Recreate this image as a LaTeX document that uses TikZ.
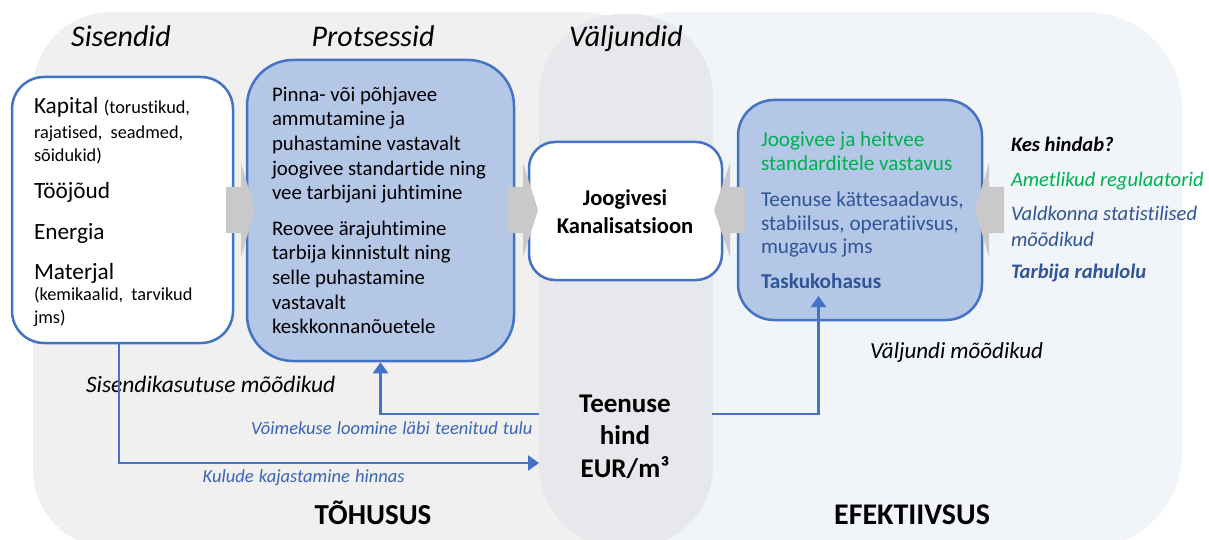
\documentclass[tikz,border=0pt]{standalone}
\usepackage{fontspec}
\setmainfont{Carlito}[Ligatures=NoCommon]
\usetikzlibrary{arrows.meta}
\definecolor{bgL}{HTML}{F0F0F0}
\definecolor{bgM}{HTML}{E7E8EB}
\definecolor{bgR}{HTML}{F1F4F9}
\definecolor{boxblue}{HTML}{B4C7E7}
\definecolor{edgeblue}{HTML}{4472C4}
\definecolor{txtblue}{HTML}{2F5597}
\definecolor{lblblue}{HTML}{3A64B4}
\definecolor{grn}{HTML}{00B050}
\definecolor{arrgray}{HTML}{C9C9C9}
\tikzset{
  wbox/.style={draw=edgeblue, line width=2.5pt, fill=white, inner sep=0pt},
  bbox/.style={draw=edgeblue, line width=2.5pt, fill=boxblue, inner sep=0pt},
  txt/.style={anchor=base west, inner sep=0pt, outer sep=0pt},
  ctxt/.style={anchor=base, inner sep=0pt, outer sep=0pt},
  conn/.style={draw=edgeblue, line width=2.5pt, -{Triangle[length=11pt,width=15pt]}},
  blockarrow/.style={fill=arrgray},
  fp/.style={font=\fontsize{20.8}{25}\selectfont},
  fr/.style={font=\fontsize{21.2}{25}\selectfont},
  f18/.style={font=\fontsize{18.3}{23}\selectfont},
  f23/.style={font=\fontsize{23.3}{27}\selectfont},
  fk/.style={font=\itshape\fontsize{20.6}{24}\selectfont},
  flow/.style={anchor=base west, inner sep=0pt, text=lblblue, font=\itshape\fontsize{18.5}{22}\selectfont}
}
\begin{document}
\begin{tikzpicture}[x=1pt,y=-1pt]
\useasboundingbox (0,0) rectangle (1209,540);
% backgrounds
\fill[bgL, rounded corners=78pt] (33,12) rectangle (660,548);
\fill[bgR, rounded corners=95pt] (580,12) rectangle (1182,548);
\fill[bgM, rounded corners=82pt] (539,14) rectangle (713,548);

% headings
\node[ctxt, font=\itshape\fontsize{30}{34}\selectfont] (hSis) at (121,47) {Sisendid};
\node[ctxt, font=\itshape\fontsize{30}{34}\selectfont] (hPro) at (373,47) {Protsessid};
\node[ctxt, font=\itshape\fontsize{30}{34}\selectfont] (hVal) at (626,47) {Väljundid};

% boxes
\node[wbox, rounded corners=32pt, minimum width=221pt, minimum height=266pt] (inp) at (122.5,210) {};
\node[bbox, rounded corners=46pt, minimum width=267pt, minimum height=301pt] (proc) at (380.5,210.5) {};
\node[wbox, rounded corners=26pt, minimum width=193pt, minimum height=138pt] (outb) at (625.5,211) {};
\node[bbox, rounded corners=36pt, minimum width=244pt, minimum height=220pt] (res) at (860,210) {};

% block arrows
\fill[blockarrow] (226,187) -- (241,187) -- (241,163) -- (255,210) -- (241,257) -- (241,233) -- (226,233) -- cycle;
\fill[blockarrow] (508,187) -- (523,187) -- (523,163) -- (538,210) -- (523,257) -- (523,233) -- (508,233) -- cycle;
\fill[blockarrow] (745,187) -- (730,187) -- (730,163) -- (714,210) -- (730,257) -- (730,233) -- (745,233) -- cycle;
\fill[blockarrow] (1004,187) -- (989,187) -- (989,163) -- (975,210) -- (989,257) -- (989,233) -- (1004,233) -- cycle;

% input text
\node[txt, f23] (i1) at (34,114) {Kapital {\fontsize{18.3}{22}\selectfont (torustikud,}};
\node[txt, f18] (i2) at (34,139) {rajatised,\hspace{4pt} seadmed,};
\node[txt, f18] (i3) at (34,162) {sõidukid)};
\node[txt, f23] (i4) at (34,199) {Tööjõud};
\node[txt, f23] (i5) at (34,239) {Energia};
\node[txt, f23] (i6) at (34,279) {Materjal};
\node[txt, f18] (i7) at (34,300) {(kemikaalid,\hspace{4pt} tarvikud};
\node[txt, f18] (i8) at (34,323) {jms)};

% process text
\node[txt, fp] (p1) at (272,102) {Pinna- või põhjavee};
\node[txt, fp] (p2) at (272,126) {ammutamine ja};
\node[txt, fp] (p3) at (272,151) {puhastamine vastavalt};
\node[txt, fp] (p4) at (272,175.5) {joogivee standartide ning};
\node[txt, fp] (p5) at (272,199.5) {vee tarbijani juhtimine};
\node[txt, fp] (p6) at (272,235) {Reovee ärajuhtimine};
\node[txt, fp] (p7) at (272,259.5) {tarbija kinnistult ning};
\node[txt, fp] (p8) at (272,284.5) {selle puhastamine};
\node[txt, fp] (p9) at (272,309) {vastavalt};
\node[txt, fp] (p10) at (272,333) {keskkonnanõuetele};

% output text
\node[ctxt, font=\bfseries\fontsize{22.6}{27}\selectfont] (o1) at (625,205) {Joogivesi};
\node[ctxt, font=\bfseries\fontsize{22.6}{27}\selectfont] (o2) at (625,233) {Kanalisatsioon};

% result text
\node[txt, fr, text=grn] (r1) at (761,147) {Joogivee ja heitvee};
\node[txt, fr, text=grn] (r2) at (761,170.5) {standarditele vastavus};
\node[txt, fr, text=txtblue] (r3) at (761,207) {Teenuse kättesaadavus,};
\node[txt, fr, text=txtblue] (r4) at (761,230) {stabiilsus, operatiivsus,};
\node[txt, fr, text=txtblue] (r5) at (761,253) {mugavus jms};
\node[txt, text=txtblue, font=\bfseries\fontsize{21.2}{25}\selectfont] (r6) at (761,288) {Taskukohasus};

% who evaluates
\node[txt, font=\bfseries\itshape\fontsize{20.6}{24}\selectfont] (k1) at (1011,152) {Kes hindab?};
\node[txt, fk, text=grn] (k2) at (1011,186) {Ametlikud regulaatorid};
\node[txt, fk, text=txtblue] (k3) at (1011,220.5) {Valdkonna statistilised};
\node[txt, fk, text=txtblue] (k4) at (1011,246.5) {mõõdikud};
\node[txt, text=txtblue, font=\bfseries\itshape\fontsize{20.6}{24}\selectfont] (k5) at (1011,278) {Tarbija rahulolu};

% measure labels
\node[txt, font=\itshape\fontsize{23}{26}\selectfont] (m1) at (870,358) {Väljundi mõõdikud};
\node[txt, font=\itshape\fontsize{23.5}{26}\selectfont] (m2) at (86,392) {Sisendikasutuse mõõdikud};

% price
\node[anchor=base, inner sep=0pt, align=center, font=\bfseries\fontsize{27}{32.5}\selectfont] (price) at (625,477) {Teenuse\\hind\\EUR/m³};

% flow labels
\node[flow] (l1) at (251,434) {Võimekuse\hspace{1pt} loomine\hspace{1pt} läbi\hspace{1pt} teenitud\hspace{1pt} tulu};
\node[flow] (l2) at (202.5,482) {Kulude\hspace{1pt} kajastamine\hspace{1pt} hinnas};

% big labels
\node[ctxt, font=\bfseries\fontsize{29}{34}\selectfont] (tohus) at (373,524) {TÕHUSUS};
\node[ctxt, font=\bfseries\fontsize{30}{34}\selectfont] (efekt) at (912,524) {EFEKTIIVSUS};

% connectors
\coordinate (c1) at (119,463);
\coordinate (c1e) at (539,463);
\coordinate (c2) at (539,414);
\coordinate (c3) at (712,414);
\coordinate (c3e) at (818.5,296);
\draw[conn] (inp.south -| c1) |- (c1e);
\draw[conn] (c2) -| (proc.south);
\draw[conn] (c3) -| (c3e);
\end{tikzpicture}
\end{document}
